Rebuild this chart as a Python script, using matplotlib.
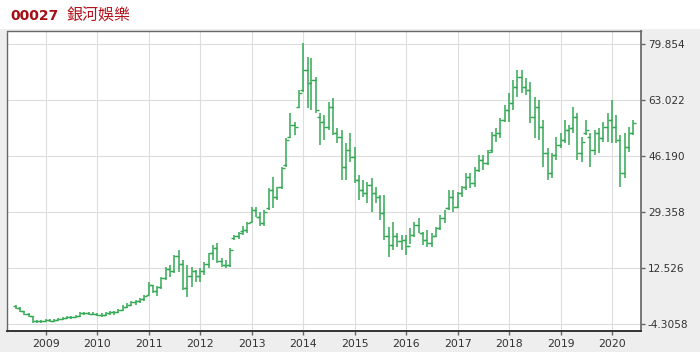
import matplotlib
matplotlib.use("Agg")
import matplotlib.pyplot as plt
import matplotlib.dates as mdates
from matplotlib.patches import Rectangle
import pandas as pd

start_month = "2008-06-01"

high = [1.5, 0.8, -0.3, -0.9, -1.8, -3.1, -3.0,
        -2.9, -2.8, -2.9, -2.6, -2.2, -2.0, -1.9, -1.7, -0.8, -0.7, -0.6, -0.8,
        -0.9, -1.1, -0.8, -0.5, -0.4, 0.2, 1.3, 2.0, 2.5, 3.0, 3.6, 4.4,
        8.4, 7.5, 7.2, 9.9, 12.9, 13.5, 16.5, 18.0, 15.0, 13.5, 12.9, 12.0,
        12.5, 14.4, 17.0, 19.4, 20.0, 15.5, 15.0, 18.5, 22.4, 23.4, 25.0, 26.5,
        31.0, 31.0, 29.4, 30.0, 36.6, 39.9, 37.0, 43.0, 51.6, 59.0, 56.4, 66.0,
        80.1, 76.0, 75.6, 70.0, 59.0, 58.5, 62.4, 63.6, 54.6, 54.0, 50.0, 53.0,
        48.9, 40.5, 39.0, 38.4, 39.6, 36.9, 34.5, 34.5, 24.9, 26.3, 23.0, 22.4,
        22.4, 24.5, 26.3, 27.5, 23.4, 24.0, 23.0, 24.9, 28.5, 30.0, 36.0, 36.0,
        35.4, 37.2, 41.0, 41.0, 42.9, 46.5, 46.5, 48.0, 53.4, 54.6, 57.6, 61.5,
        65.0, 69.0, 72.0, 72.0, 69.6, 68.4, 63.9, 63.0, 57.0, 48.6, 47.1, 51.9,
        53.1, 57.0, 55.5, 60.9, 59.1, 51.9, 57.0, 53.1, 54.0, 54.6, 56.4, 59.1,
        63.0, 58.5, 52.5, 53.1, 54.9, 57.0]

low = [0.3, -0.6, -1.6, -2.1, -3.9, -4.0, -3.9,
       -3.8, -3.6, -3.6, -3.5, -3.1, -2.8, -2.8, -2.6, -2.2, -1.7, -1.6, -1.7,
       -2.0, -2.1, -1.8, -1.5, -1.6, -1.0, -0.3, 0.5, 1.1, 1.5, 2.0, 2.6,
       4.4, 5.0, 4.1, 6.3, 9.0, 9.9, 11.1, 11.4, 6.0, 3.8, 6.9, 8.4,
       8.4, 10.5, 12.5, 15.0, 14.0, 12.8, 12.5, 12.8, 20.9, 21.3, 22.5, 23.1,
       26.4, 27.9, 25.2, 25.2, 30.0, 30.6, 33.0, 36.3, 43.0, 51.6, 52.5, 60.6,
       65.4, 60.6, 60.0, 59.0, 49.5, 51.0, 54.0, 52.5, 50.0, 39.0, 39.0, 44.4,
       38.0, 33.0, 34.0, 32.0, 29.4, 32.0, 27.0, 21.0, 15.9, 18.0, 18.8, 18.0,
       16.4, 19.6, 21.8, 23.0, 19.4, 18.8, 18.8, 21.8, 24.0, 26.0, 30.0, 29.4,
       30.6, 33.9, 36.0, 36.6, 36.9, 41.4, 42.0, 43.5, 47.0, 50.4, 51.6, 56.4,
       56.4, 60.0, 63.9, 65.1, 64.5, 56.1, 51.6, 51.0, 42.9, 39.0, 39.6, 45.0,
       48.6, 50.1, 49.5, 53.1, 45.0, 44.4, 52.5, 42.9, 46.5, 47.1, 50.4, 50.4,
       50.1, 50.1, 36.9, 39.6, 47.4, 52.5]

open_ = [1.2, 0.5, -0.5, -1.2, -2.0, -3.4, -3.5,
         -3.3, -3.2, -3.3, -3.1, -2.8, -2.5, -2.3, -2.2, -2.0, -1.1, -1.1, -1.2,
         -1.3, -1.6, -1.6, -1.1, -0.8, -0.8, 0.0, 0.8, 1.5, 2.2, 2.7, 3.2,
         4.5, 7.4, 5.5, 6.8, 9.5, 12.3, 11.5, 16.0, 13.8, 6.5, 10.0, 11.5,
         10.0, 11.5, 13.8, 17.0, 18.5, 14.5, 13.5, 13.5, 21.5, 22.0, 23.5, 24.0,
         26.5, 30.0, 28.0, 26.0, 30.5, 36.0, 34.0, 37.0, 43.5, 52.0, 55.5, 61.0,
         66.0, 72.0, 68.0, 69.0, 58.0, 56.5, 55.0, 61.0, 53.0, 52.0, 43.0, 48.0,
         46.0, 39.0, 36.0, 35.0, 37.5, 35.0, 34.0, 29.0, 22.0, 19.5, 22.0, 20.5,
         21.0, 19.0, 22.5, 25.5, 23.0, 21.0, 20.0, 22.0, 24.5, 27.5, 30.5, 34.0,
         31.0, 35.0, 37.0, 40.0, 38.0, 42.0, 45.0, 44.0, 48.0, 52.5, 53.0, 57.0,
         60.0, 62.0, 67.0, 70.0, 67.0, 66.0, 58.0, 61.0, 55.0, 47.0, 41.0, 46.5,
         49.5, 51.0, 54.0, 54.5, 58.0, 47.0, 53.0, 52.0, 48.0, 53.0, 51.5, 55.0,
         57.0, 55.0, 51.0, 41.0, 49.0, 53.0]

close = [0.5, -0.5, -1.2, -2.0, -3.4, -3.5, -3.3,
         -3.2, -3.3, -3.1, -2.8, -2.5, -2.3, -2.2, -2.0, -1.1, -1.1, -1.2, -1.3,
         -1.6, -1.6, -1.1, -0.8, -0.8, 0.0, 0.8, 1.5, 2.2, 2.7, 3.2, 4.2,
         7.4, 5.5, 6.8, 9.5, 12.3, 11.5, 16.0, 13.8, 6.5, 10.0, 11.5, 10.0,
         11.5, 13.8, 17.0, 18.5, 14.5, 13.5, 13.5, 18.0, 22.0, 23.0, 24.0, 26.0,
         30.0, 28.0, 26.0, 29.5, 36.0, 34.0, 37.0, 42.5, 51.0, 55.5, 55.0, 65.0,
         72.0, 68.0, 69.0, 60.0, 56.5, 55.0, 61.0, 53.0, 52.0, 43.0, 48.0, 46.0,
         39.0, 36.0, 35.0, 37.5, 35.0, 34.0, 29.0, 22.0, 19.5, 22.0, 20.5, 21.0,
         19.0, 22.5, 25.5, 23.0, 21.0, 20.0, 22.0, 24.5, 27.5, 30.5, 34.0, 31.0,
         35.0, 37.0, 40.0, 38.0, 42.0, 45.0, 44.0, 47.5, 52.5, 53.0, 57.0, 60.0,
         62.0, 67.0, 70.0, 67.0, 66.0, 58.0, 61.0, 55.0, 47.0, 41.0, 46.5, 49.5,
         51.0, 54.0, 54.5, 58.0, 47.0, 50.5, 54.0, 48.0, 53.0, 51.5, 55.0, 57.0,
         55.0, 51.0, 41.0, 49.0, 53.0, 56.0]

ytick_vals = [-4.3058, 12.526, 29.358, 46.190, 63.022, 79.854]
ytick_labels = ["-4.3058", "12.526", "29.358", "46.190", "63.022", "79.854"]
years = list(range(2009, 2021))

code = "00027"
name = "銀河娛樂"

dates = pd.date_range(start_month, periods=len(high), freq="MS")
green = "#34a853"

fig = plt.figure(figsize=(7.0, 3.52), dpi=100, facecolor="#eeeeee")
fig.patches.append(Rectangle((0, 1 - 29 / 352), 1, 29 / 352, transform=fig.transFigure,
                             facecolor="white", edgecolor="none", zorder=0))
ax = fig.add_axes([7 / 700, 21 / 352, 634 / 700, 300 / 352])
ax.set_facecolor("white")

ax.vlines(dates, low, high, color=green, lw=1.1)
ax.plot(dates, open_, ls="none", marker=0, ms=2.2, mew=1.0, color=green)
ax.plot(dates, close, ls="none", marker=1, ms=2.2, mew=1.0, color=green)

ax.set_xlim(pd.Timestamp("2008-04-01"), pd.Timestamp("2020-07-25"))
ax.set_ylim(-6.41, 83.76)

ax.set_xticks([pd.Timestamp(f"{y}-01-01") for y in years])
ax.set_xticklabels([str(y) for y in years])
ax.yaxis.tick_right()
ax.set_yticks(ytick_vals)
ax.set_yticklabels(ytick_labels)
ax.grid(True, color="#dddddd", lw=0.8)
ax.set_axisbelow(True)

ax.tick_params(axis="y", length=3, width=1, color="#666666", labelsize=7.6,
               labelcolor="#333333", pad=2)
ax.tick_params(axis="x", length=3, width=1, color="#666666", labelsize=7.8,
               labelcolor="#333333", pad=3)

for side in ["left", "top"]:
    ax.spines[side].set_linestyle((0, (1, 1)))
    ax.spines[side].set_color("#666666")
    ax.spines[side].set_linewidth(1.0)
ax.spines["bottom"].set_linestyle((0, (1, 1)))
ax.spines["bottom"].set_color("#333333")
ax.spines["bottom"].set_linewidth(1.4)
ax.spines["right"].set_color("#777777")
ax.spines["right"].set_linewidth(1.4)

fig.text(10 / 700, 1 - 16 / 352, code, fontsize=10, fontweight="bold",
         color="#a50f15", va="center", ha="left", family="DejaVu Sans")
fig.text(66 / 700, 1 - 16 / 352, name, fontsize=11.5, color="#b5121b",
         va="center", ha="left", family=["Noto Sans CJK TC", "DejaVu Sans"])

fig.savefig("out.png", dpi=100, facecolor=fig.get_facecolor())
